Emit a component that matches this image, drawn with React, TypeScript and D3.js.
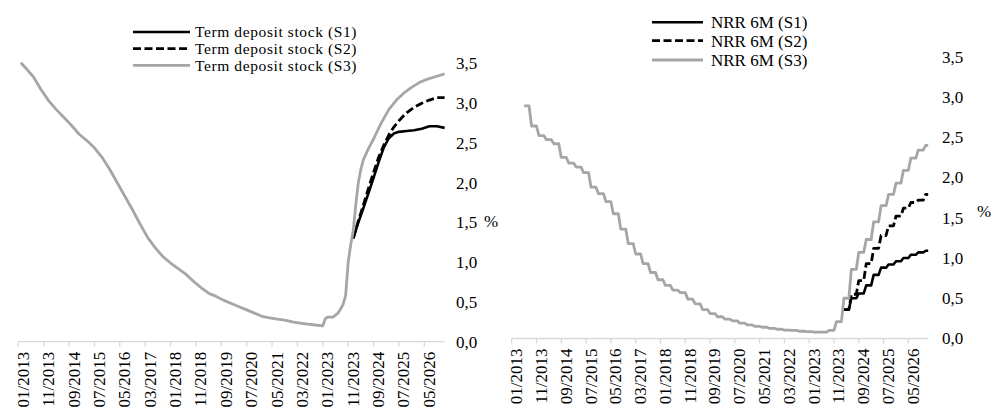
import React from "react";
import * as d3 from "d3";

// x axis tick labels (every 10 months)
const tickLabels = [
  "01/2013", "11/2013", "09/2014", "07/2015", "05/2016", "03/2017", "01/2018", "11/2018",
  "09/2019", "07/2020", "05/2021", "03/2022", "01/2023", "11/2023", "09/2024", "07/2025", "05/2026",
];
const yTicks = [0, 0.5, 1, 1.5, 2, 2.5, 3, 3.5];

// left panel: term deposit stock
const tdMonths = [
  "02/2013", "04/2013", "07/2013", "10/2013", "01/2014", "04/2014", "07/2014", "10/2014",
  "01/2015", "04/2015", "07/2015", "10/2015", "01/2016", "04/2016", "07/2016", "10/2016",
  "01/2017", "04/2017", "07/2017", "10/2017", "01/2018", "04/2018", "07/2018", "10/2018",
  "01/2019", "04/2019", "07/2019", "10/2019", "01/2020", "04/2020", "07/2020", "10/2020",
  "01/2021", "04/2021", "07/2021", "10/2021", "01/2022", "04/2022", "07/2022", "10/2022",
  "01/2023", "02/2023", "03/2023", "05/2023", "07/2023", "08/2023", "09/2023", "10/2023",
  "11/2023", "12/2023", "01/2024", "02/2024", "03/2024", "04/2024", "05/2024", "07/2024",
  "09/2024", "12/2024", "03/2025", "06/2025", "09/2025", "12/2025", "03/2026", "06/2026",
  "09/2026", "01/2027",
];
const tdS3 = [
  3.51, 3.44, 3.33, 3.17, 3.03, 2.92, 2.82, 2.72,
  2.61, 2.53, 2.44, 2.32, 2.17, 2.0, 1.83, 1.66,
  1.48, 1.31, 1.18, 1.07, 0.99, 0.92, 0.85, 0.76,
  0.68, 0.61, 0.57, 0.52, 0.48, 0.44, 0.4, 0.36,
  0.32, 0.3, 0.285, 0.27, 0.25, 0.235, 0.22, 0.21,
  0.2, 0.29, 0.31, 0.31, 0.36, 0.41, 0.47, 0.58,
  1.0, 1.22, 1.4, 1.72, 2.0, 2.17, 2.29, 2.43,
  2.55, 2.75, 2.92, 3.04, 3.13, 3.2, 3.26, 3.3,
  3.33, 3.37,
];
const tdScenMonths = [
  "01/2024", "03/2024", "05/2024", "07/2024", "09/2024", "11/2024", "01/2025", "03/2025",
  "05/2025", "07/2025", "10/2025", "01/2026", "04/2026", "07/2026", "10/2026", "01/2027",
];
const tdS1 = [1.3, 1.5, 1.68, 1.87, 2.06, 2.26, 2.44, 2.56, 2.62, 2.64, 2.65, 2.66, 2.68, 2.71, 2.71, 2.69];
const tdS2 = [1.3, 1.52, 1.72, 1.93, 2.13, 2.32, 2.47, 2.6, 2.7, 2.78, 2.88, 2.95, 3.0, 3.04, 3.07, 3.07];

// right panel: NRR 6M, quarterly values (each held for three months)
const nrrS3Start = "06/2013";
const nrrS3 = [
  2.89, 2.64, 2.52, 2.47, 2.42, 2.25, 2.18, 2.13, 2.06, 1.88,
  1.8, 1.7, 1.55, 1.36, 1.18, 1.05, 0.93, 0.82, 0.73, 0.66,
  0.6, 0.57, 0.49, 0.43, 0.36, 0.31, 0.27, 0.24, 0.22, 0.19,
  0.17, 0.15, 0.14, 0.125, 0.115, 0.105, 0.1, 0.09, 0.085, 0.08,
  0.08, 0.1, 0.21, 0.5, 0.86, 1.07, 1.23, 1.45, 1.65, 1.79,
  1.93, 2.09, 2.24, 2.34, 2.4,
];
const nrrScenStart = "03/2024";
const nrrS1 = [0.36, 0.5, 0.56, 0.66, 0.79, 0.88, 0.92, 0.96, 1.0, 1.04, 1.07, 1.09];
const nrrS2 = [0.36, 0.55, 0.72, 0.93, 1.12, 1.28, 1.4, 1.52, 1.62, 1.69, 1.72, 1.79];

const LAST = "01/2027";
const FONT = '"Liberation Serif", "DejaVu Serif", serif';

const mIdx = (s: string) => {
  const [mm, yy] = s.split("/").map(Number);
  return (yy - 2013) * 12 + mm - 1;
};
const lastM = mIdx(LAST);

type Pt = [number, number];
const pairs = (months: string[], vals: number[]): Pt[] => vals.map((v, i) => [mIdx(months[i]), v]);
const quarterly = (start: string, vals: number[]): Pt[] => {
  const s = mIdx(start);
  const out: Pt[] = [];
  vals.forEach((v, k) => {
    const m0 = s + 3 * k;
    out.push([m0, v]);
    out.push([Math.min(m0 + 2, lastM), v]);
  });
  return out;
};

const styles = [
  { stroke: "#000", dash: null as string | null, w: 2.6 },
  { stroke: "#000", dash: "8,3.5", w: 2.8 },
  { stroke: "#a6a6a6", dash: null as string | null, w: 2.8 },
];

type PanelProps = {
  x0: number; x1: number; y0: number; y35: number;
  labelX: number; pctX: number; pctY: number;
  legX0: number; legX1: number; legTextX: number; legY: number[];
  legSize: number; legSpacing: number;
  names: string[]; series: Pt[][];
};

function Panel(p: PanelProps) {
  const x = d3.scaleLinear().domain([0, lastM]).range([p.x0, p.x1]);
  const y = d3.scaleLinear().domain([0, 3.5]).range([p.y0, p.y35]);
  const line = d3.line<Pt>().x((d) => x(d[0])).y((d) => y(d[1]));
  return (
    <g style={{ fontFamily: FONT }} fontSize={17} fill="#000">
      <line x1={x(0)} x2={x(lastM)} y1={y(0)} y2={y(0)} stroke="#d9d9d9" strokeWidth={1.3} />
      {tickLabels.map((t) => {
        const tx = x(mIdx(t));
        return (
          <g key={t}>
            <line x1={tx} x2={tx} y1={y(0)} y2={y(0) + 5} stroke="#d9d9d9" strokeWidth={1.3} />
            <text
              transform={`translate(${tx + 4.5},${y(0) + 10}) rotate(-90)`}
              textAnchor="end"
              dy="0.35em"
            >
              {t}
            </text>
          </g>
        );
      })}
      {yTicks.map((v) => (
        <text key={v} x={p.labelX} y={y(v)} dy="0.35em" textAnchor="start">
          {v.toFixed(1).replace(".", ",")}
        </text>
      ))}
      <text x={p.pctX} y={p.pctY} dy="0.35em">%</text>
      {[0, 1, 2].map((i) => (
        <path
          key={i}
          d={line(p.series[i]) || ""}
          fill="none"
          stroke={styles[i].stroke}
          strokeWidth={styles[i].w}
          strokeDasharray={styles[i].dash || undefined}
          strokeLinejoin="round"
        />
      ))}
      {p.names.map((n, i) => (
        <g key={n}>
          <line
            x1={p.legX0} x2={p.legX1} y1={p.legY[i]} y2={p.legY[i]}
            stroke={styles[i].stroke} strokeWidth={styles[i].w}
            strokeDasharray={styles[i].dash || undefined}
          />
          <text
            x={p.legTextX} y={p.legY[i]} dy="0.35em"
            fontSize={p.legSize} letterSpacing={p.legSpacing}
          >
            {n}
          </text>
        </g>
      ))}
    </g>
  );
}

export default function App() {
  const leftSeries = [pairs(tdScenMonths, tdS1), pairs(tdScenMonths, tdS2), pairs(tdMonths, tdS3)];
  const rightSeries = [quarterly(nrrScenStart, nrrS1), quarterly(nrrScenStart, nrrS2), quarterly(nrrS3Start, nrrS3)];
  return (
    <svg width={993} height={408} style={{ position: "absolute", left: 0, top: 0, background: "#fff" }}>
      <rect width={993} height={408} fill="#fff" />
      <Panel
        x0={18.3} x1={444.6} y0={341.7} y35={63.5}
        labelX={456} pctX={484} pctY={221}
        legX0={133} legX1={190} legTextX={195} legY={[32, 48.7, 65.3]}
        legSize={15.5} legSpacing={0.6}
        names={["Term deposit stock (S1)", "Term deposit stock (S2)", "Term deposit stock (S3)"]}
        series={leftSeries}
      />
      <Panel
        x0={511.7} x1={928.2} y0={338.5} y35={56.8}
        labelX={942} pctX={977} pctY={211}
        legX0={652} legX1={703} legTextX={711} legY={[22.3, 40.7, 60]}
        legSize={17} legSpacing={0}
        names={["NRR 6M (S1)", "NRR 6M (S2)", "NRR 6M (S3)"]}
        series={rightSeries}
      />
    </svg>
  );
}
